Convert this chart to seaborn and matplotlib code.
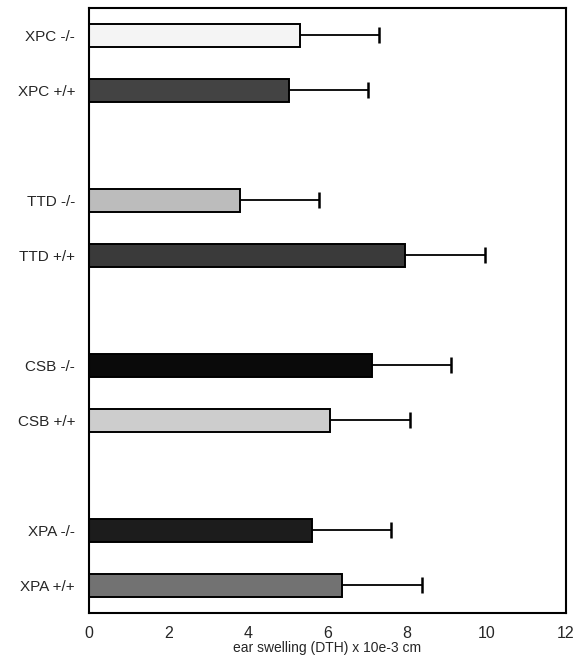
import numpy as np
import pandas as pd
import matplotlib
matplotlib.use('Agg')
import matplotlib.pyplot as plt
import seaborn as sns

# values
groups = ['XPC -/-', 'XPC +/+', 'TTD -/-', 'TTD +/+',
          'CSB -/-', 'CSB +/+', 'XPA -/-', 'XPA +/+']
swelling = [5.31, 5.03, 3.80, 7.95, 7.12, 6.06, 5.61, 6.36]
sd = [1.99, 1.99, 1.99, 2.01, 1.99, 2.02, 1.99, 2.02]
slot = [0, 1, 3, 4, 6, 7, 9, 10]
shades = ['#f4f4f4', '#434343', '#bcbcbc', '#3a3a3a',
          '#0a0a0a', '#cdcdcd', '#1c1c1c', '#727272']

df = pd.DataFrame({'group': groups, 'swelling': swelling, 'sd': sd, 'slot': slot})
df['upper'] = df['swelling'] + df['sd']

sns.set_style('white')
plt.rcParams['font.family'] = ['Liberation Sans', 'DejaVu Sans']

fig, ax = plt.subplots(figsize=(5.81, 6.61), dpi=100)
fig.subplots_adjust(left=0.153, right=0.974, top=0.988, bottom=0.073)

sns.barplot(data=df, x='swelling', y='slot', orient='h', native_scale=True,
            hue='group', palette=shades, legend=False, width=0.42,
            edgecolor='black', linewidth=1.4, errorbar=None, ax=ax)

# one-sided error bars: whisker + cap at the far end only
ax.hlines(df['slot'], df['swelling'], df['upper'], color='black', linewidth=1.3, zorder=1)
ax.scatter(df['upper'], df['slot'], marker='|', s=130, linewidths=1.8, color='black', zorder=3)

ax.set_xlim(0, 12)
ax.set_ylim(10.5, -0.5)
ax.set_xticks(range(0, 13, 2))
ax.set_yticks(slot)
ax.set_yticklabels(groups)
ax.tick_params(axis='y', length=0, pad=10, labelsize=11)
ax.tick_params(axis='x', direction='inout', length=7, width=1, labelsize=11.5, pad=6)
ax.set_xlabel('ear swelling (DTH) x 10e-3 cm', fontsize=10, labelpad=0)
ax.set_ylabel('')
for s in ax.spines.values():
    s.set_color('black')
    s.set_linewidth(1.5)

plt.savefig('out.png', dpi=100)
